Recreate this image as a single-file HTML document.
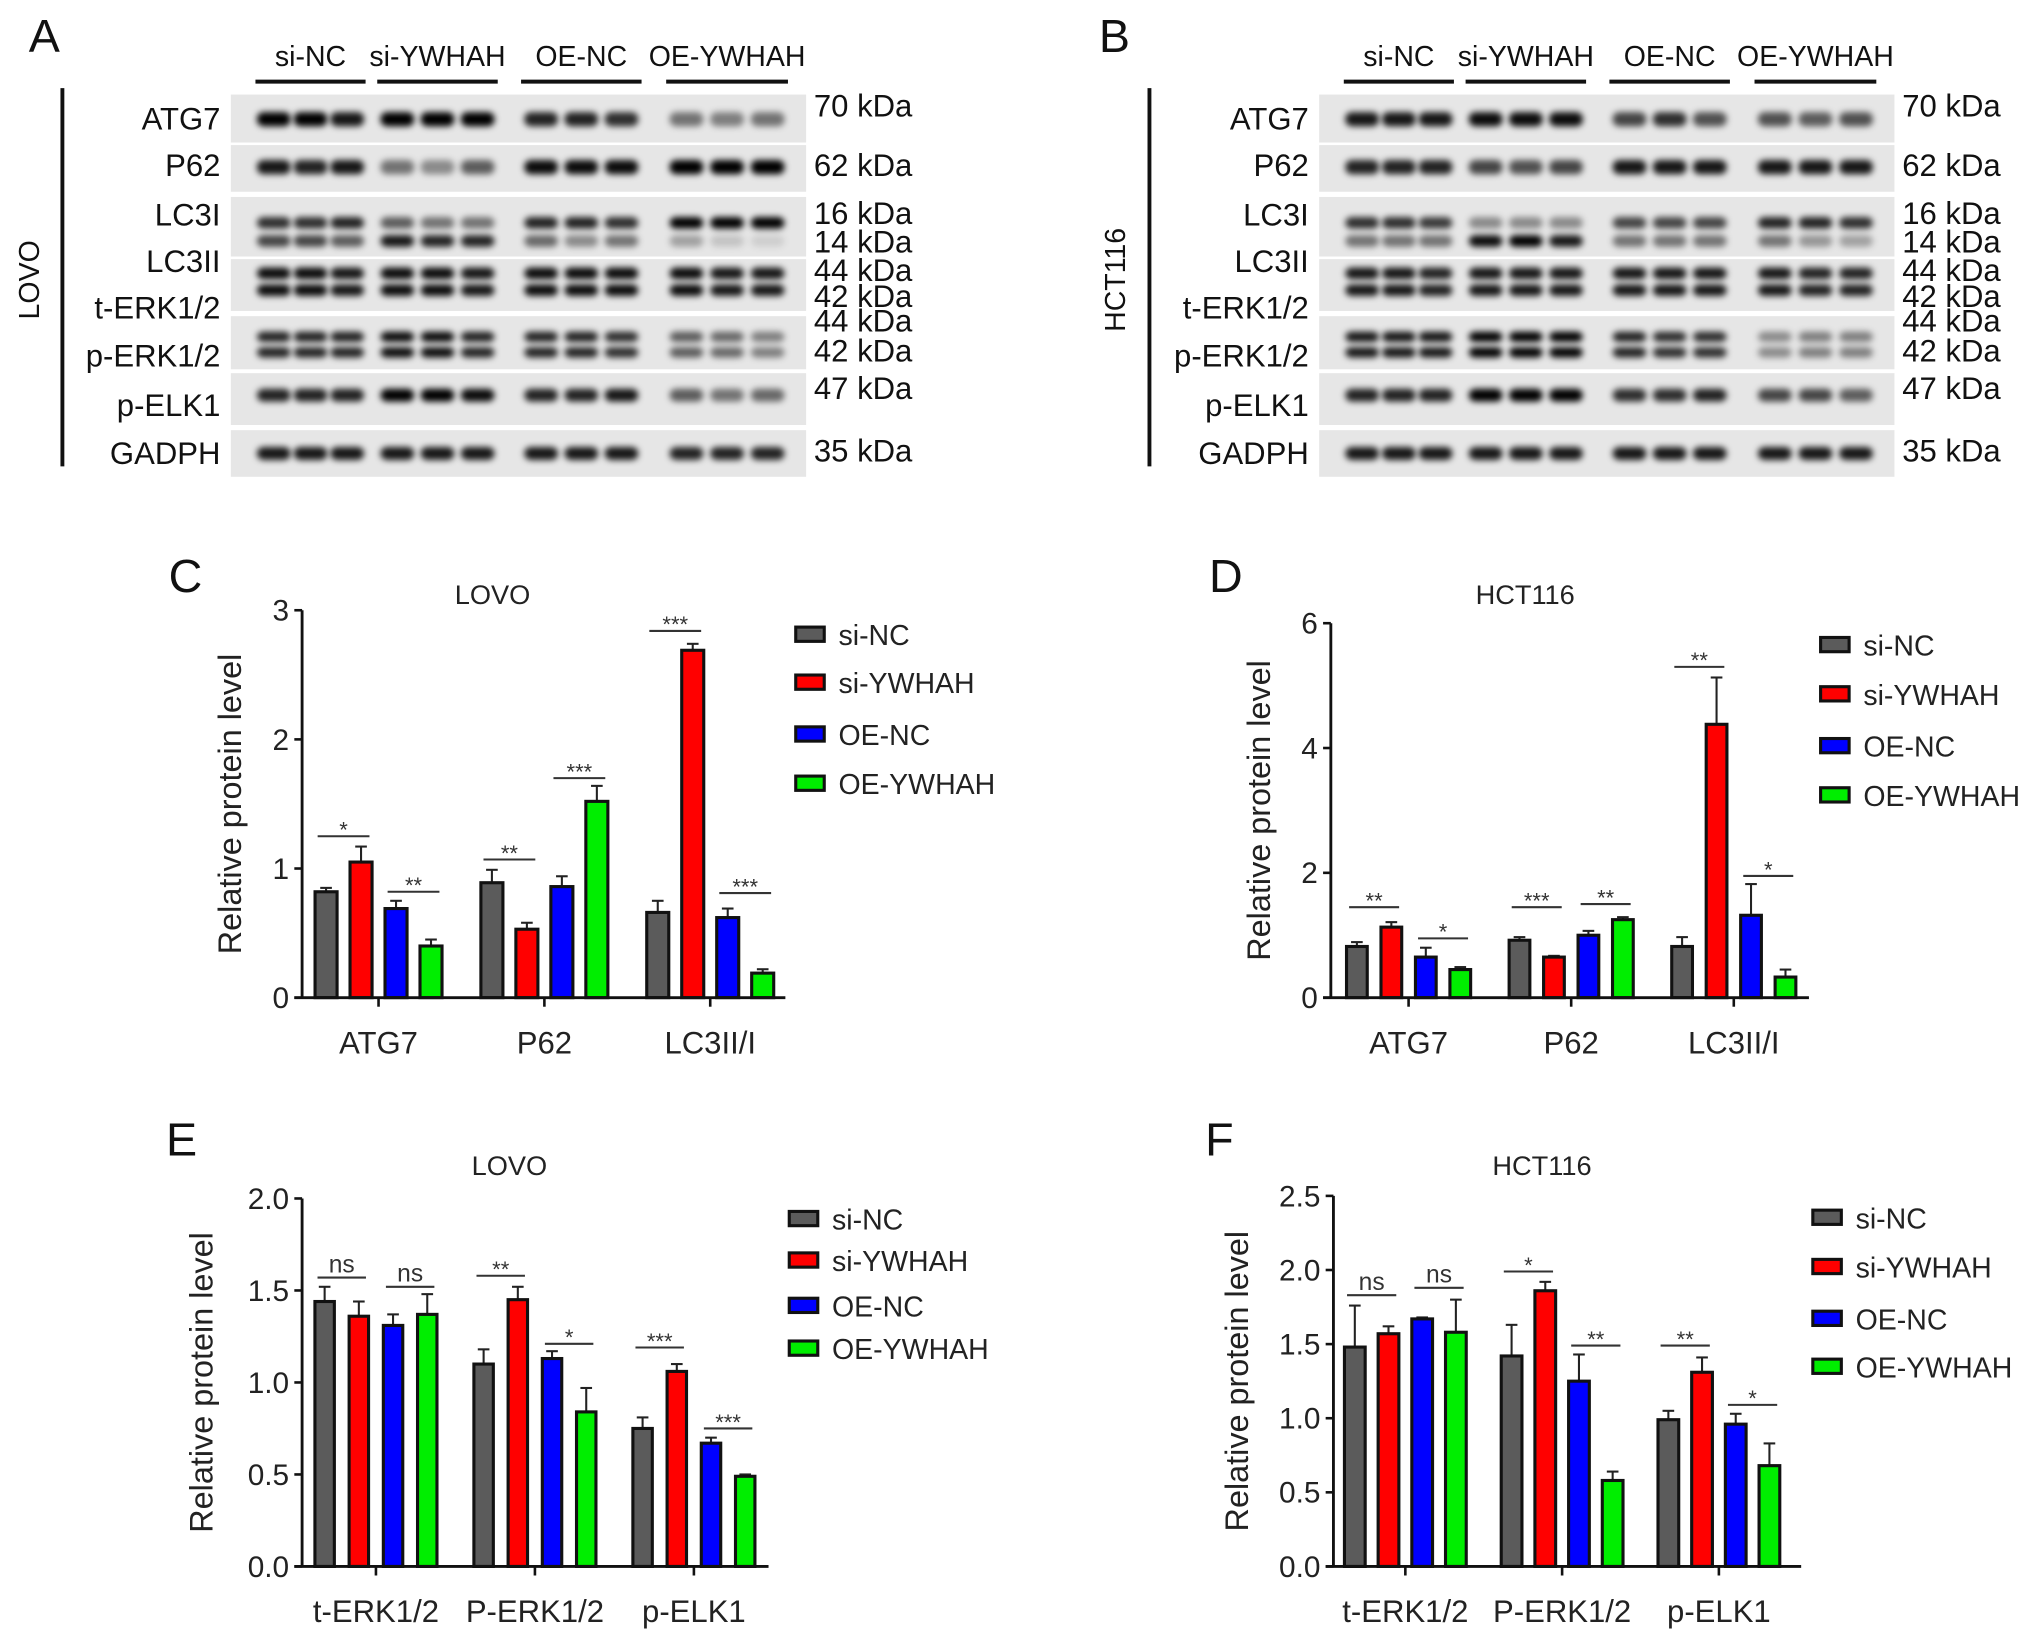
<!DOCTYPE html>
<html><head><meta charset="utf-8">
<style>
html,body{margin:0;padding:0;background:#fff;}
svg{display:block;font-family:"Liberation Sans",Arial,sans-serif;}
</style></head>
<body>
<svg id="fig" width="2032" height="1639" viewBox="0 0 1568 1265" xmlns="http://www.w3.org/2000/svg">
<defs><filter id="blur" x="-30%" y="-80%" width="160%" height="260%"><feGaussianBlur stdDeviation="2.4"/></filter></defs>
<g id="root"></g>
</svg>
<script>
// ---- Chart data ----
const groupNames = ["si-NC","si-YWHAH","OE-NC","OE-YWHAH"];
const barColors = ["#5b5b5b","#ff0000","#0000ff","#00ee00"];

const cCategories = ["ATG7","P62","LC3II/I"];
const cSiNC = [0.82,0.89,0.66];
const cSiYWHAH = [1.05,0.53,2.69];
const cOENC = [0.69,0.86,0.62];
const cOEYWHAH = [0.40,1.52,0.19];
const cErrSiNC = [0.03,0.10,0.09];
const cErrSiYWHAH = [0.12,0.05,0.05];
const cErrOENC = [0.06,0.08,0.07];
const cErrOEYWHAH = [0.05,0.12,0.03];
const cTicks = ["0","1","2","3"];
const cSig = [["*",1.25],["**",0.82],["**",1.07],["***",1.70],["***",2.84],["***",0.81]];

const dCategories = ["ATG7","P62","LC3II/I"];
const dSiNC = [0.82,0.92,0.82];
const dSiYWHAH = [1.13,0.65,4.38];
const dOENC = [0.65,1.00,1.32];
const dOEYWHAH = [0.45,1.25,0.33];
const dErrSiNC = [0.07,0.05,0.15];
const dErrSiYWHAH = [0.08,0.02,0.75];
const dErrOENC = [0.15,0.07,0.50];
const dErrOEYWHAH = [0.04,0.04,0.12];
const dTicks = ["0","2","4","6"];
const dSig = [["**",1.45],["*",0.95],["***",1.45],["**",1.50],["**",5.30],["*",1.95]];

const eCategories = ["t-ERK1/2","P-ERK1/2","p-ELK1"];
const eSiNC = [1.44,1.10,0.75];
const eSiYWHAH = [1.36,1.45,1.06];
const eOENC = [1.31,1.13,0.67];
const eOEYWHAH = [1.37,0.84,0.49];
const eErrSiNC = [0.08,0.08,0.06];
const eErrSiYWHAH = [0.08,0.07,0.04];
const eErrOENC = [0.06,0.04,0.03];
const eErrOEYWHAH = [0.11,0.13,0.01];
const eTicks = ["0.0","0.5","1.0","1.5","2.0"];
const eSig = [["ns",1.57],["ns",1.52],["**",1.58],["*",1.21],["***",1.19],["***",0.75]];

const fCategories = ["t-ERK1/2","P-ERK1/2","p-ELK1"];
const fSiNC = [1.48,1.42,0.99];
const fSiYWHAH = [1.57,1.86,1.31];
const fOENC = [1.67,1.25,0.96];
const fOEYWHAH = [1.58,0.58,0.68];
const fErrSiNC = [0.28,0.21,0.06];
const fErrSiYWHAH = [0.05,0.06,0.10];
const fErrOENC = [0.01,0.18,0.07];
const fErrOEYWHAH = [0.22,0.06,0.15];
const fTicks = ["0.0","0.5","1.0","1.5","2.0","2.5"];
const fSig = [["ns",1.83],["ns",1.88],["*",1.99],["**",1.49],["**",1.49],["*",1.09]];

// ---- Blot band intensities ----
const blotRowsA = {
  atg7:[1,1,.9,1,1,1,.85,.85,.8,.5,.45,.5],
  p62:[.9,.85,.9,.5,.4,.6,.95,.95,.95,1,1,1],
  lc3i:[.8,.8,.85,.6,.5,.5,.85,.85,.8,1,1,1],
  lc3ii:[.7,.7,.6,.9,.85,.85,.55,.4,.5,.3,.15,.1],
  terk:[.95,.95,.9,.95,.95,.9,.95,.95,.95,.95,.9,.9],
  perk:[.85,.85,.85,.95,.95,.85,.85,.85,.8,.6,.55,.45],
  pelk:[.85,.85,.85,1,1,.95,.85,.85,.9,.6,.5,.55],
  gapdh:[.9,.9,.9,.9,.9,.9,.9,.9,.9,.85,.85,.85]
};
const blotRowsB = {
  atg7:[.9,.9,.9,.95,.95,.95,.7,.8,.65,.65,.6,.65],
  p62:[.85,.85,.85,.7,.65,.7,.9,.9,.9,.9,.9,.9],
  lc3i:[.8,.8,.75,.4,.4,.4,.7,.7,.7,.85,.85,.8],
  lc3ii:[.5,.5,.5,.95,1,.9,.5,.5,.5,.5,.35,.3],
  terk:[.9,.9,.85,.9,.9,.9,.9,.9,.9,.9,.85,.85],
  perk:[.9,.9,.9,1,1,1,.85,.8,.8,.4,.45,.45],
  pelk:[.85,.85,.85,1,1,1,.8,.8,.85,.7,.7,.6],
  gapdh:[.9,.9,.9,.9,.9,.9,.9,.9,.9,.9,.9,.9]
};

const NS = "http://www.w3.org/2000/svg";
const root = document.getElementById("root");
function mk(tag, attrs, parent, text){
  const e = document.createElementNS(NS, tag);
  for (const k in attrs) e.setAttribute(k, attrs[k]);
  if (text !== undefined) e.textContent = text;
  (parent||root).appendChild(e);
  return e;
}

// ---- Panel letters ----
[["A",22,40],["B",848,40],["C",130,457],["D",933,457],["E",128,892],["F",930,892]].forEach(p=>{
  const t = mk("text",{x:p[1],y:p[2],"font-size":36,fill:"#111"},root,p[0]);
  
  
});

// ---- Western blot panels ----
function drawBlot(ox, rows, cell, id){
  const g = mk("g",{});
  
  
  const groups = [[197,282],[291,384],[402,495],[514,608]];
  const lanes = [];
  groups.forEach((gr,gi)=>{
    const a=gr[0]+ox, b=gr[1]+ox, w=(b-a)/6;
    const ln = mk("line",{x1:a,x2:b,y1:63,y2:63,stroke:"#111","stroke-width":3},g);
    
    
    const t = mk("text",{x:(a+b)/2,y:51,"font-size":22,"text-anchor":"middle",fill:"#111"},g,groupNames[gi]);
    
    
    for(let k=0;k<3;k++) lanes.push(a+w*(1+2*k));
  });
  const panels = [[73,110],[112,148],[152,198],[200,240],[244,285],[288,328],[332,368]];
  panels.forEach(p=>{
    const r = mk("rect",{x:178+ox,y:p[0],width:444,height:p[1]-p[0],fill:"#e6e6e6"},g);
    
    
  });
  const bandRows = [["atg7",92,11],["p62",129,11],["lc3i",172,9],["lc3ii",186,9],["terk",211,9],["terk",224,9],["perk",260,8],["perk",272,8],["pelk",305,10],["gapdh",350,10]];
  bandRows.forEach(br=>{
    const vals = rows[br[0]];
    lanes.forEach((x,i)=>{
      const v = vals[i];
      const b = mk("rect",{x:x-13,y:br[1]-br[2]/2,width:26,height:br[2],rx:5,fill:"#000","fill-opacity":v,filter:"url(#blur)"},g);
      
      
    });
  });
  const left = [["ATG7",100],["P62",136],["LC3I",174],["LC3II",210],["t-ERK1/2",246],["p-ERK1/2",283],["p-ELK1",321],["GADPH",358]];
  left.forEach(l=>{
    const t = mk("text",{x:170+ox,y:l[1],"font-size":24,"text-anchor":"end",fill:"#111"},g,l[0]);
    
    
  });
  const right = [["70 kDa",90],["62 kDa",136],["16 kDa",173],["14 kDa",195],["44 kDa",217],["42 kDa",237],["44 kDa",256],["42 kDa",279],["47 kDa",308],["35 kDa",356]];
  right.forEach(l=>{
    const t = mk("text",{x:628+ox,y:l[1],"font-size":24,fill:"#111"},g,l[0]);
    
    
  });
  const vl = mk("line",{x1:48+ox+(id==="b"?-1:0),x2:48+ox+(id==="b"?-1:0),y1:68,y2:360,stroke:"#111","stroke-width":3},g);
  
  
  const cx = 30+ox+(id==="b"?-2:0), cy=216;
  const ct = mk("text",{x:cx,y:cy,"font-size":22,"text-anchor":"middle",fill:"#111",transform:`rotate(-90 ${cx} ${cy})`},g,cell);
  
  
}
drawBlot(0, blotRowsA, "LOVO", "a");
drawBlot(840, blotRowsB, "HCT116", "b");

// ---- Bar charts ----
function drawChart(cfg){
  const g = mk("g",{});
  
  
  const ymax = parseFloat(cfg.ticks[cfg.ticks.length-1]);
  const yS = v => cfg.y0 - v/ymax*(cfg.y0-cfg.yTop);
  const xG = i => cfg.g0 + i*cfg.gs;
  const xB = (i,s) => xG(i) + (s-1.5)*cfg.bs;
  const tt = mk("text",{x:cfg.tx,y:cfg.ty,"font-size":21,"text-anchor":"middle",fill:"#222"},g,cfg.title);
  
  
  const yt = mk("text",{x:cfg.ytx,y:(cfg.y0+cfg.yTop)/2,"font-size":25,"text-anchor":"middle",fill:"#222",transform:`rotate(-90 ${cfg.ytx} ${(cfg.y0+cfg.yTop)/2})`},g,"Relative protein level");
  
  
  cfg.series.forEach((ser,s)=>{
    ser.forEach((v,i)=>{
      const x = xB(i,s), w = cfg.bw;
      const er = cfg.errs[s][i];
      const el = mk("line",{x1:x,x2:x,y1:yS(v),y2:yS(v+er),stroke:"#222","stroke-width":1.6},g);
      
      
      const ec = mk("line",{x1:x-4.5,x2:x+4.5,y1:yS(v+er),y2:yS(v+er),stroke:"#222","stroke-width":1.6},g);
      
      
      const r = mk("rect",{x:x-w/2,y:yS(v),width:w,height:yS(0)-yS(v),fill:barColors[s],stroke:"#111","stroke-width":2.4},g);
      
      
    });
  });
  cfg.sig.forEach((sg,k)=>{
    const i = Math.floor(k/2), a = (k%2)*2;
    const x1 = xB(i,a)-cfg.bw/2+2, x2 = xB(i,a+1)+cfg.bw/2-2, y = yS(sg[1]);
    const l = mk("line",{x1:x1,x2:x2,y1:y,y2:y,stroke:"#333","stroke-width":1.6},g);
    
    
    const isNs = sg[0]==="ns";
    const t = mk("text",{x:(x1+x2)/2,y:isNs?y-4:y+1,"font-size":isNs?19:17,"text-anchor":"middle",fill:"#333"},g,sg[0]);
    
    
  });
  const ya = mk("line",{x1:cfg.ax,x2:cfg.ax,y1:cfg.yTop,y2:cfg.y0,stroke:"#111","stroke-width":2.2},g);
  
  
  const xa = mk("line",{x1:cfg.ax-6,x2:cfg.axEnd,y1:cfg.y0,y2:cfg.y0,stroke:"#111","stroke-width":2.2},g);
  
  
  cfg.ticks.forEach(tk=>{
    const y = yS(parseFloat(tk));
    const tl = mk("line",{x1:cfg.ax-6,x2:cfg.ax,y1:y,y2:y,stroke:"#111","stroke-width":2},g);
    
    
    const t = mk("text",{x:cfg.ax-10,y:y+8,"font-size":23,"text-anchor":"end",fill:"#222"},g,tk);
    
    
  });
  cfg.cats.forEach((c,i)=>{
    const x = xG(i);
    const tl = mk("line",{x1:x,x2:x,y1:cfg.y0,y2:cfg.y0+7,stroke:"#111","stroke-width":2},g);
    
    
    const t = mk("text",{x:x,y:cfg.y0+43,"font-size":24,"text-anchor":"middle",fill:"#222"},g,c);
    
    
  });
  groupNames.forEach((n,s)=>{
    const y = cfg.ly[s];
    const r = mk("rect",{x:cfg.lx,y:y-6,width:22,height:11,fill:barColors[s],stroke:"#111","stroke-width":2.4},g);
    
    
    const t = mk("text",{x:cfg.lx+33,y:y+8,"font-size":22,fill:"#222"},g,n);
    
    
  });
}

drawChart({id:"c",title:"LOVO",tx:380,ty:466,ytx:186,ax:233,axEnd:606,y0:770,yTop:471,g0:292,gs:128,bs:27,bw:17,
  cats:cCategories,series:[cSiNC,cSiYWHAH,cOENC,cOEYWHAH],errs:[cErrSiNC,cErrSiYWHAH,cErrOENC,cErrOEYWHAH],ticks:cTicks,sig:cSig,
  lx:614,ly:[490,527,567,605]});
drawChart({id:"d",title:"HCT116",tx:1177,ty:466,ytx:980,ax:1027,axEnd:1396,y0:770,yTop:481,g0:1087,gs:125.5,bs:26.6,bw:16,
  cats:dCategories,series:[dSiNC,dSiYWHAH,dOENC,dOEYWHAH],errs:[dErrSiNC,dErrSiYWHAH,dErrOENC,dErrOEYWHAH],ticks:dTicks,sig:dSig,
  lx:1405,ly:[498,536,576,614]});
drawChart({id:"e",title:"LOVO",tx:393,ty:907,ytx:164,ax:233,axEnd:593,y0:1209,yTop:925,g0:290,gs:122.7,bs:26.4,bw:15,
  cats:eCategories,series:[eSiNC,eSiYWHAH,eOENC,eOEYWHAH],errs:[eErrSiNC,eErrSiYWHAH,eErrOENC,eErrOEYWHAH],ticks:eTicks,sig:eSig,
  lx:609,ly:[941,973,1008,1041]});
drawChart({id:"f",title:"HCT116",tx:1190,ty:907,ytx:963,ax:1029,axEnd:1390,y0:1209,yTop:923,g0:1084.5,gs:121,bs:26,bw:16,
  cats:fCategories,series:[fSiNC,fSiYWHAH,fOENC,fOEYWHAH],errs:[fErrSiNC,fErrSiYWHAH,fErrOENC,fErrOEYWHAH],ticks:fTicks,sig:fSig,
  lx:1399,ly:[940,978,1018,1055]});
</script>
</body></html>
